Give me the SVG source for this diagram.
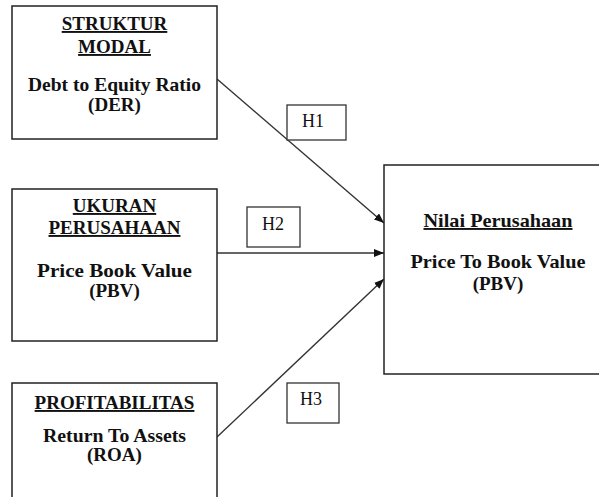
<svg xmlns="http://www.w3.org/2000/svg" width="599" height="497" viewBox="0 0 599 497">
<style>
.box{fill:#fff;stroke:#222;stroke-width:1.5}
.hbox{fill:#fff;stroke:#333;stroke-width:1.3}
.t{font-family:"Liberation Serif","Times New Roman","DejaVu Serif",serif;font-weight:bold;font-size:19px;fill:#111;text-anchor:middle}
.u{text-decoration:underline}
.h{font-family:"Liberation Serif","Times New Roman","DejaVu Serif",serif;font-size:18px;fill:#111;text-anchor:middle}
.c{stroke:#333;stroke-width:1.4;fill:none;marker-end:url(#ah)}
</style>
<defs>
<marker id="ah" viewBox="0 0 10 8" refX="10" refY="4" markerWidth="10" markerHeight="8" markerUnits="userSpaceOnUse" orient="auto">
<path d="M0,0 L10,4 L0,8 Z" fill="#111"/>
</marker>
</defs>
<rect width="599" height="497" fill="#fff"/>
<g id="connectors">
<line class="c" x1="217" y1="79" x2="384" y2="223"/>
<line class="c" x1="217" y1="253" x2="384" y2="253"/>
<line class="c" x1="217" y1="437" x2="384" y2="279"/>
</g>
<g id="node-struktur">
<rect class="box" x="12" y="6" width="205" height="133"/>
<text class="t u" x="114.5" y="30">STRUKTUR</text>
<text class="t u" x="114.5" y="53">MODAL</text>
<text class="t" x="114.5" y="91" textLength="173" lengthAdjust="spacingAndGlyphs">Debt to Equity Ratio</text>
<text class="t" x="114.5" y="111">(DER)</text>
</g>
<g id="node-ukuran">
<rect class="box" x="12" y="189" width="205" height="152"/>
<text class="t u" x="114.5" y="212">UKURAN</text>
<text class="t u" x="114.5" y="234">PERUSAHAAN</text>
<text class="t" x="114.5" y="277" textLength="155" lengthAdjust="spacingAndGlyphs">Price Book Value</text>
<text class="t" x="114.5" y="297">(PBV)</text>
</g>
<g id="node-profit">
<rect class="box" x="12" y="383" width="205" height="130"/>
<text class="t u" x="114.5" y="409">PROFITABILITAS</text>
<text class="t" x="114.5" y="442" textLength="143" lengthAdjust="spacingAndGlyphs">Return To Assets</text>
<text class="t" x="114.5" y="461">(ROA)</text>
</g>
<g id="node-nilai">
<rect class="box" x="384" y="165" width="230" height="209"/>
<text class="t u" x="498" y="227" textLength="149" lengthAdjust="spacingAndGlyphs">Nilai Perusahaan</text>
<text class="t" x="498" y="268" textLength="175" lengthAdjust="spacingAndGlyphs">Price To Book Value</text>
<text class="t" x="498" y="290">(PBV)</text>
</g>
<g id="label-h1">
<rect class="hbox" x="287" y="105" width="59" height="35"/>
<text class="h" x="313" y="127">H1</text>
</g>
<g id="label-h2">
<rect class="hbox" x="247" y="207" width="53" height="40"/>
<text class="h" x="273" y="230">H2</text>
</g>
<g id="label-h3">
<rect class="hbox" x="287" y="383" width="52" height="40"/>
<text class="h" x="311" y="405">H3</text>
</g>
</svg>
